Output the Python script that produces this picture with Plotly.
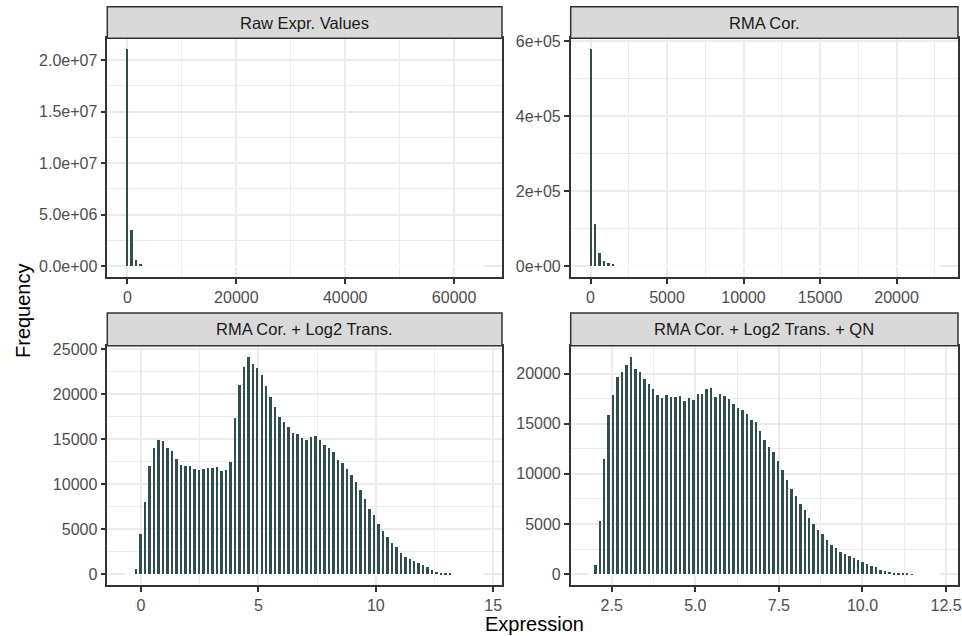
import numpy as np
import plotly.graph_objects as go

# ---------------- data ----------------
panel_titles = ["Raw Expr. Values", "RMA Cor.",
                "RMA Cor. + Log2 Trans.", "RMA Cor. + Log2 Trans. + QN"]

# Raw expression values: 80 bins of width ~824, centred on multiples of the width
raw_bin_width = 824
raw_first_center = 0
raw_n_bins = 80
raw_counts = [21070000, 3440000, 600000, 150000]

# RMA corrected
rma_bin_width = 287.6
rma_first_center = 0
rma_n_bins = 80
rma_counts = [579000, 110600, 35600, 14200, 7000, 2700]

# RMA corrected + log2
log2_bin_width = 0.191
log2_first_center = -0.573
log2_counts = [0, 0, 590, 4470, 7990, 12060, 14050, 14900, 14800, 13980, 13650, 12800,
               12170, 12060, 12000, 11650, 11580, 11720, 11830, 11830, 11900, 11430,
               11580, 12460, 17340, 21080, 23040, 24150, 23400, 22930, 22100, 20970,
               19670, 18600, 17530, 16940, 16380, 15720, 15640, 15090, 14900, 15270,
               15420, 14900, 14420, 13980, 13570, 12680, 12350, 11690, 11060, 10280,
               9360, 8360, 7290, 6620, 5620, 4810, 4140, 3480, 3000, 2330, 1920, 1660,
               1520, 1260, 1000, 780, 480, 260, 150, 100, 70, 0, 0, 0, 0, 0, 0, 0]
log2_n_bins = len(log2_counts)

# RMA corrected + log2 + quantile normalisation
qn_bin_width = 0.1333
qn_first_center = 1.867
qn_counts = [0, 900, 5300, 11530, 15870, 17900, 19700, 20230, 20870, 21700, 20500, 20170,
             19530, 19000, 18470, 17900, 17630, 17900, 17700, 17670, 17770, 17300, 17570,
             17430, 18030, 18030, 18500, 18600, 17700, 18000, 17770, 17500, 17000, 16630,
             16430, 16000, 15430, 15200, 14330, 13400, 12700, 12200, 11270, 10430, 9400,
             8500, 7830, 7030, 6430, 5670, 5000, 4430, 4030, 3470, 2930, 2600, 2270, 2030,
             1830, 1630, 1400, 1270, 1000, 830, 700, 430, 370, 200, 170, 100, 70, 50, 30,
             0, 0, 0, 0, 0, 0]
qn_n_bins = len(qn_counts)

# tick labels
raw_x_ticks = [0, 20000, 40000, 60000]
raw_x_labels = ["0", "20000", "40000", "60000"]
raw_y_ticks = [0, 5e6, 1e7, 1.5e7, 2e7]
raw_y_labels = ["0.0e+00", "5.0e+06", "1.0e+07", "1.5e+07", "2.0e+07"]
rma_x_ticks = [0, 5000, 10000, 15000, 20000]
rma_x_labels = ["0", "5000", "10000", "15000", "20000"]
rma_y_ticks = [0, 2e5, 4e5, 6e5]
rma_y_labels = ["0e+00", "2e+05", "4e+05", "6e+05"]
log2_x_ticks = [0, 5, 10, 15]
log2_x_labels = ["0", "5", "10", "15"]
log2_y_ticks = [0, 5000, 10000, 15000, 20000, 25000]
log2_y_labels = ["0", "5000", "10000", "15000", "20000", "25000"]
qn_x_ticks = [2.5, 5.0, 7.5, 10.0, 12.5]
qn_x_labels = ["2.5", "5.0", "7.5", "10.0", "12.5"]
qn_y_ticks = [0, 5000, 10000, 15000, 20000]
qn_y_labels = ["0", "5000", "10000", "15000", "20000"]

x_title = "Expression"
y_title = "Frequency"

# ---------------- styling ----------------
W, H = 962, 636
BAR = "#2F4F4F"
GRID = "#EBEBEB"
DARK = "#333333"
TICKTXT = "#4D4D4D"
FONT = "Liberation Sans, Arial, Helvetica, sans-serif"
BAR_FRACTION = 0.55

left_dom = [107.3 / W, 502 / W]
right_dom = [570.7 / W, 958 / W]
top_dom = [1 - 277 / H, 1 - 38.3 / H]
bot_dom = [1 - 585 / H, 1 - 345.7 / H]
top_strip = [1 - 38.3 / H, 1 - 6.7 / H]
bot_strip = [1 - 345.7 / H, 1 - 313 / H]

panels = [
    dict(w=raw_bin_width, c0=raw_first_center, n=raw_n_bins, counts=raw_counts,
         xt=raw_x_ticks, xl=raw_x_labels, yt=raw_y_ticks, yl=raw_y_labels,
         xminor=10000, yminor=2.5e6, xd=left_dom, yd=top_dom, sd=top_strip),
    dict(w=rma_bin_width, c0=rma_first_center, n=rma_n_bins, counts=rma_counts,
         xt=rma_x_ticks, xl=rma_x_labels, yt=rma_y_ticks, yl=rma_y_labels,
         xminor=2500, yminor=1e5, xd=right_dom, yd=top_dom, sd=top_strip),
    dict(w=log2_bin_width, c0=log2_first_center, n=log2_n_bins, counts=log2_counts,
         xt=log2_x_ticks, xl=log2_x_labels, yt=log2_y_ticks, yl=log2_y_labels,
         xminor=2.5, yminor=2500, xd=left_dom, yd=bot_dom, sd=bot_strip),
    dict(w=qn_bin_width, c0=qn_first_center, n=qn_n_bins, counts=qn_counts,
         xt=qn_x_ticks, xl=qn_x_labels, yt=qn_y_ticks, yl=qn_y_labels,
         xminor=1.25, yminor=2500, xd=right_dom, yd=bot_dom, sd=bot_strip),
]

fig = go.Figure()
layout = dict(width=W, height=H, margin=dict(l=0, r=0, t=0, b=0),
              plot_bgcolor="white", paper_bgcolor="white", showlegend=False,
              font=dict(family=FONT, color=TICKTXT), bargap=0)
shapes, annotations = [], []

for i, p in enumerate(panels, start=1):
    xa = "x" if i == 1 else f"x{i}"
    ya = "y" if i == 1 else f"y{i}"
    counts = np.array(p["counts"], dtype=float)
    centers = p["c0"] + np.arange(len(counts)) * p["w"]
    lo = p["c0"] - p["w"] / 2
    hi = p["c0"] + (p["n"] - 0.5) * p["w"]
    span = hi - lo
    ymax = counts.max()

    fig.add_trace(go.Bar(x=centers, y=counts, width=p["w"] * BAR_FRACTION,
                         xaxis=xa, yaxis=ya,
                         marker=dict(color=BAR, line=dict(width=0)),
                         hoverinfo="x+y"))

    # white outline of the (empty) histogram bins along the baseline
    shapes.append(dict(type="line", xref=xa, yref=ya, x0=lo, x1=hi, y0=0, y1=0,
                       line=dict(color="white", width=2), layer="between"))

    common = dict(showgrid=True, gridcolor=GRID, gridwidth=2, zeroline=False,
                  showline=True, mirror=True, linecolor=DARK, linewidth=1.5,
                  ticks="outside", ticklen=5, tickwidth=1.5, tickcolor=DARK,
                  tickfont=dict(family=FONT, size=16, color=TICKTXT),
                  automargin=False, fixedrange=True)
    layout["xaxis" if i == 1 else f"xaxis{i}"] = dict(
        common, domain=p["xd"], anchor=ya,
        range=[lo - 0.05 * span, hi + 0.05 * span],
        tickmode="array", tickvals=p["xt"], ticktext=p["xl"],
        minor=dict(tickmode="linear", tick0=0, dtick=p["xminor"], showgrid=True,
                   gridcolor=GRID, gridwidth=1, ticks=""))
    layout["yaxis" if i == 1 else f"yaxis{i}"] = dict(
        common, domain=p["yd"], anchor=xa,
        range=[-0.05 * ymax, 1.05 * ymax],
        tickmode="array", tickvals=p["yt"], ticktext=p["yl"],
        minor=dict(tickmode="linear", tick0=0, dtick=p["yminor"], showgrid=True,
                   gridcolor=GRID, gridwidth=1, ticks=""))

    shapes.append(dict(type="rect", xref="paper", yref="paper",
                       x0=p["xd"][0], x1=p["xd"][1], y0=p["sd"][0], y1=p["sd"][1],
                       fillcolor="#D9D9D9", line=dict(color=DARK, width=1.5),
                       layer="above"))
    annotations.append(dict(xref="paper", yref="paper",
                            x=(p["xd"][0] + p["xd"][1]) / 2,
                            y=(p["sd"][0] + p["sd"][1]) / 2,
                            text=panel_titles[i - 1], showarrow=False,
                            xanchor="center", yanchor="middle",
                            font=dict(family=FONT, size=16.5, color="#1A1A1A")))

annotations.append(dict(xref="paper", yref="paper", x=534 / W, y=1 - 624 / H,
                        text=x_title, showarrow=False, xanchor="center", yanchor="middle",
                        font=dict(family=FONT, size=20, color="black")))
annotations.append(dict(xref="paper", yref="paper", x=23 / W, y=1 - 311 / H,
                        text=y_title, showarrow=False, textangle=-90,
                        xanchor="center", yanchor="middle",
                        font=dict(family=FONT, size=20, color="black")))

layout["shapes"] = shapes
layout["annotations"] = annotations
fig.update_layout(**layout)
fig.write_html("out.html")
